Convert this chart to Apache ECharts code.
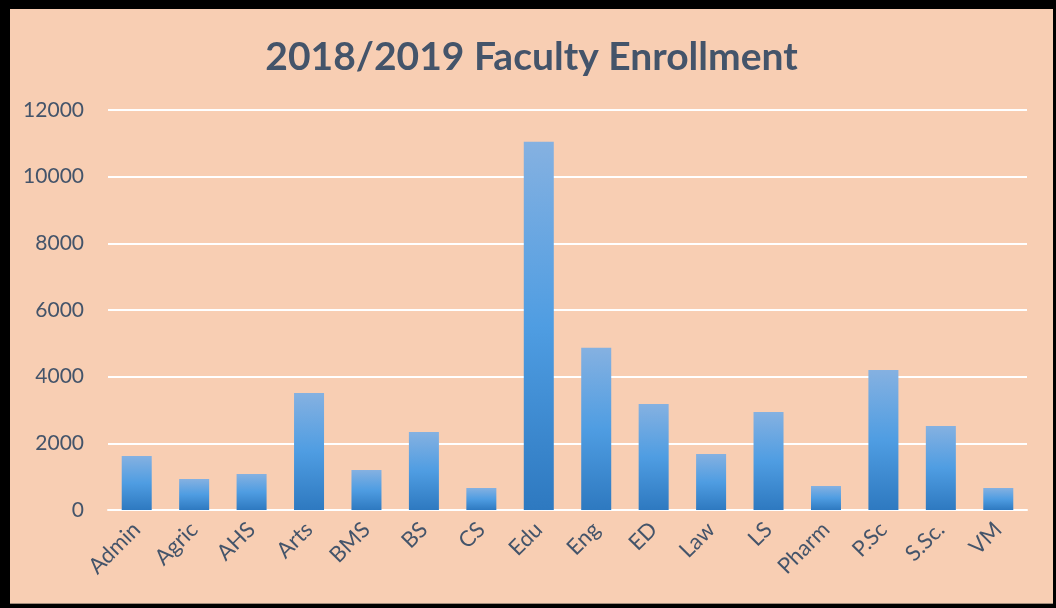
<!DOCTYPE html>
<html>
  <head>
    <meta charset="utf-8">
    <title>2018/2019 Faculty Enrollment</title>
    <script src="https://cdn.jsdelivr.net/npm/echarts@6/dist/echarts.min.js"></script>
    <style>
      html, body { margin: 0; padding: 0; background: #000; }
      #frame { position: absolute; left: 10px; top: 9px; width: 1043px; height: 594px;
               background: #F8CEB3; border-bottom: 1px solid #A08A7A; }
      #chart { width: 1043px; height: 594px; }
    </style>
  </head>
  <body>
    <div id="frame"><div id="chart"></div></div>
    <script>
      // faculties and their enrollment
      const faculties = ["Admin", "Agric", "AHS", "Arts", "BMS", "BS", "CS", "Edu",
                         "Eng", "ED", "Law", "LS", "Pharm", "P.Sc", "S.Sc.", "VM"];
      const enrollment = [1620, 930, 1080, 3510, 1200, 2340, 660, 11050,
                          4870, 3180, 1680, 2940, 720, 4200, 2520, 660];
      const yTicks = [0, 2000, 4000, 6000, 8000, 10000, 12000];

      const textColor = "#44546A";
      const font = "Lato";

      const chart = echarts.init(document.getElementById("chart"));
      chart.setOption({
        animation: false,
        title: {
          text: "2018/2019 Faculty Enrollment",
          left: "center",
          top: 24,
          textStyle: { color: textColor, fontFamily: font, fontWeight: "bold", fontSize: 39 }
        },
        grid: { left: 98, right: 26, top: 101, bottom: 93 },
        xAxis: {
          type: "category",
          data: faculties,
          axisLine: { show: true, lineStyle: { color: "#fff", width: 2 } },
          axisTick: { show: false },
          axisLabel: {
            rotate: 45, margin: 16, interval: 0,
            color: textColor, fontFamily: font, fontSize: 22
          }
        },
        yAxis: {
          type: "value",
          min: yTicks[0],
          max: yTicks[yTicks.length - 1],
          interval: yTicks[1] - yTicks[0],
          axisLine: { show: false },
          axisTick: { show: false },
          axisLabel: {
            margin: 24, color: textColor, fontFamily: font, fontSize: 21,
            formatter: v => String(v)
          },
          splitLine: { lineStyle: { color: "#fff", width: 2 } }
        },
        series: [{
          type: "bar",
          data: enrollment,
          barWidth: 30,
          itemStyle: {
            color: new echarts.graphic.LinearGradient(0, 0, 0, 1, [
              { offset: 0, color: "#85B1E1" },
              { offset: 0.5, color: "#4F9DE2" },
              { offset: 1, color: "#2E79C0" }
            ])
          }
        }]
      });
    </script>
  </body>
</html>
